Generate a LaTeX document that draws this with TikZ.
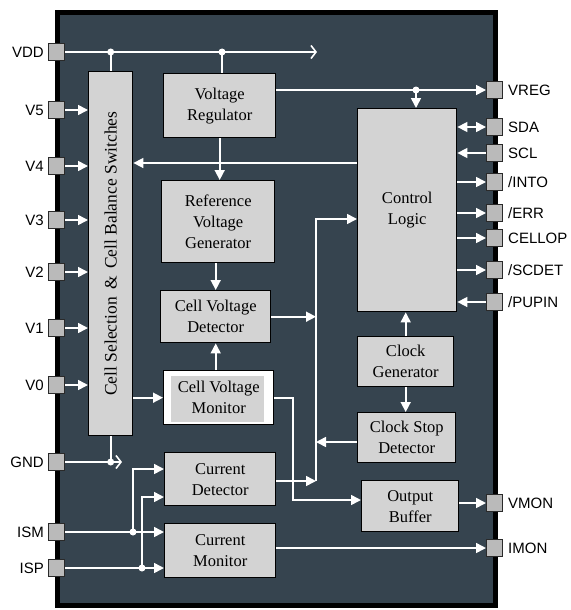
\documentclass[tikz,border=0pt]{standalone}
\usepackage{fontspec}
\usepackage{graphicx}
\setmainfont{Liberation Serif}
\setsansfont{Liberation Sans}
\usetikzlibrary{arrows.meta,positioning}
\definecolor{diebg}{HTML}{36444F}
\definecolor{blockbg}{HTML}{D3D3D3}
\definecolor{padbg}{HTML}{BABABA}
\definecolor{padbd}{HTML}{2A2A2A}
\tikzset{
  block/.style={draw=black,fill=blockbg,line width=1.4pt,align=center,
                inner sep=0,anchor=north west,
                font=\fontsize{16.5}{21}\selectfont},
  pad/.style={draw=padbd,fill=padbg,line width=1pt,minimum width=16pt,
              minimum height=17pt,inner sep=0},
  padtext/.style={font=\sffamily\fontsize{15}{15}\selectfont,inner sep=0},
  wire/.style={draw=white,line width=1.6pt},
  arrowfill/.style={wire,-{Triangle[length=10pt,width=10pt]}},
  arrowboth/.style={wire,{Triangle[length=10pt,width=10pt]}-{Triangle[length=10pt,width=10pt]}},
  arrowopen/.style={wire,-{Straight Barb[length=5pt,width=13pt]}},
}

\begin{document}
\begin{tikzpicture}[x=1pt,y=-1pt]
  \useasboundingbox (0,0) rectangle (570,610);
  % die outline
  \draw[line width=5pt,fill=diebg] (57.5,12.5) rectangle (495.5,605.5);

  % pads on the left
  \foreach \id/\txt/\y in {pvdd/VDD/52,pv5/V5/110,pv4/V4/166,pv3/V3/220,
      pv2/V2/272,pv1/V1/328,pv0/V0/385,pgnd/GND/462,pism/ISM/532,pisp/ISP/568}{
    \node[pad] (\id) at (56.5,\y) {};
    \node[padtext,left=4pt of \id] (\id-t) {\txt};
  }
  % pads on the right
  \foreach \id/\txt/\y in {pvreg/VREG/90,psda/SDA/127,pscl/SCL/153,
      pinto/{/INTO}/182,perr/{/ERR}/213,pcellop/CELLOP/238,pscdet/{/SCDET}/270,
      ppupin/{/PUPIN}/302,pvmon/VMON/503,pimon/IMON/548}{
    \node[pad] (\id) at (494.5,\y) {};
    \node[padtext,right=5pt of \id] (\id-t) {\txt};
  }

  % blocks
  \node[block,minimum width=44,minimum height=364,
        font=\fontsize{17.5}{21}\selectfont] (sel) at (88,71)
    {\rotatebox{90}{Cell Selection~\,\&\,~Cell Balance Switches}};
  \node[block,minimum width=112,minimum height=64] (vreg) at (163,73)
    {Voltage\\Regulator};
  \node[block,minimum width=113,minimum height=82] (refgen) at (161,180)
    {Reference\\Voltage\\Generator};
  \node[block,minimum width=110,minimum height=52] (cvd) at (160,290)
    {Cell Voltage\\Detector};
  \node[block,fill=white,minimum width=110,minimum height=54,
        path picture={\fill[blockbg]
          ([xshift=7pt,yshift=-5pt]path picture bounding box.north west) rectangle
          ([xshift=-10pt,yshift=3pt]path picture bounding box.south east);}]
    (cvm) at (163,370) {Cell Voltage\\Monitor};
  \node[block,minimum width=111,minimum height=53] (cdet) at (164,452)
    {Current\\Detector};
  \node[block,minimum width=111,minimum height=54] (cmon) at (164,523)
    {Current\\Monitor};
  \node[block,minimum width=99,minimum height=203] (ctrl) at (357,108)
    {Control\\Logic};
  \node[block,minimum width=96,minimum height=50] (clkgen) at (357,336)
    {Clock\\Generator};
  \node[block,minimum width=98,minimum height=50] (clkstop) at (357,412)
    {Clock Stop\\Detector};
  \node[block,minimum width=97,minimum height=51] (outbuf) at (361,480)
    {Output\\Buffer};

  % supply rail
  \coordinate (vddend) at (317,52);
  \coordinate (jsel) at (sel.north |- pvdd);
  \coordinate (jvreg) at (222,52);
  \draw[arrowopen] (pvdd.east) -- (vddend);
  \draw[wire] (jsel) -- (sel.north);
  \draw[wire] (jvreg) -- (jvreg |- vreg.north);
  \coordinate (jreg) at (416,90);
  \draw[arrowfill] (vreg.east |- pvreg) -- (pvreg.west);
  \draw[arrowfill] (jreg) -- (jreg |- ctrl.north);
  \draw[arrowfill] (vreg.south) -- (vreg.south |- refgen.north);

  % cell inputs
  \foreach \id in {pv5,pv4,pv3,pv2,pv1,pv0}
    \draw[arrowfill] (\id.east) -- (sel.west |- \id);
  \draw[arrowfill] (ctrl.west |- 0,163) -- (sel.east |- 0,163);
  \draw[arrowfill] (sel.east |- cvm) -- (cvm.west);
  \draw[arrowfill] (cvd.north |- refgen.south) -- (cvd.north);
  \draw[arrowfill] (cvd.south |- cvm.north) -- (cvd.south);

  % bus into control logic
  \coordinate (bustop) at (316,219);
  \coordinate (busbot) at (316,481);
  \draw[arrowfill] (busbot) -- (bustop) -- (ctrl.west |- bustop);
  \draw[arrowfill] (cvd.east) -- (cvd.east -| bustop);
  \draw[arrowfill] (clkstop.west |- 0,442) -- (bustop |- 0,442);
  \draw[arrowfill] (cdet.east |- busbot) -- (busbot);
  \coordinate (cvmturn) at (293,500);
  \draw[arrowfill] (cvm.east) -| (cvmturn) -- (outbuf.west |- cvmturn);

  % clock
  \draw[arrowfill] (clkgen.north) -- (clkgen.north |- ctrl.south);
  \draw[arrowfill] (clkgen.south) -- (clkgen.south |- clkstop.north);

  % serial and status pins
  \draw[arrowboth] (ctrl.east |- psda) -- (psda.west);
  \draw[arrowfill] (pscl.west) -- (ctrl.east |- pscl);
  \foreach \id in {pinto,perr,pcellop,pscdet}
    \draw[arrowfill] (ctrl.east |- \id) -- (\id.west);
  \draw[arrowfill] (ppupin.west) -- (ctrl.east |- ppupin);
  \draw[arrowfill] (outbuf.east |- pvmon) -- (pvmon.west);
  \draw[arrowfill] (cmon.east |- pimon) -- (pimon.west);

  % ground and current sense
  \coordinate (gndend) at (122,462);
  \coordinate (jgnd) at (sel.south |- pgnd);
  \draw[arrowopen] (pgnd.east) -- (gndend);
  \draw[wire] (sel.south) -- (jgnd);
  \coordinate (jism) at (133,532);
  \coordinate (jisp) at (142,568);
  \draw[arrowfill] (pism.east) -- (cmon.west |- pism);
  \draw[arrowfill] (pisp.east) -- (cmon.west |- pisp);
  \draw[arrowfill] (jism) |- (cdet.west |- 0,469);
  \draw[arrowfill] (jisp) |- (cdet.west |- 0,497);

  % junction dots
  \foreach \j in {jsel,jvreg,jreg,jgnd,jism,jisp}
    \fill[white] (\j) circle[radius=3.5pt];
\end{tikzpicture}
\end{document}
